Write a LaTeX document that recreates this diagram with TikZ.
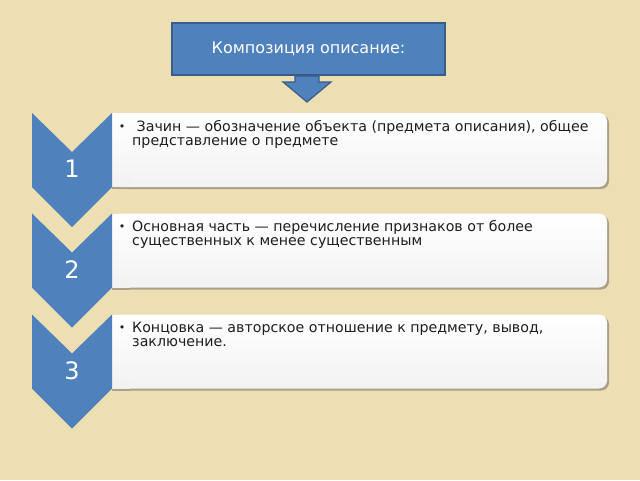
\documentclass[tikz,border=0pt]{standalone}
\usepackage{fontspec}
\setmainfont{DejaVu Sans}
\definecolor{bg}{RGB}{238,222,180}
\definecolor{ofblue}{RGB}{79,129,189}
\definecolor{ofblueline}{RGB}{56,93,138}
\definecolor{txt}{RGB}{30,30,30}
\definecolor{shad}{RGB}{170,160,135}
\tikzset{
  chev/.style={fill=ofblue},
  tbox/.style={top color=white, bottom color=black!5, rounded corners=8pt},
  tshadow/.style={fill=shad, rounded corners=8pt},
  numtxt/.style={text=white, font=\fontsize{24}{24}\selectfont, inner sep=0pt},
  linetxt/.style={text=txt, font=\fontsize{14.2}{14}\selectfont, inner sep=0pt, anchor=base west},
  bul/.style={text=txt, font=\fontsize{11}{11}\selectfont, inner sep=0pt, anchor=base},
}
\begin{document}
\begin{tikzpicture}[x=1pt,y=-1pt]
\useasboundingbox (0,0) rectangle (640,480);
\fill[bg] (0,0) rectangle (640,480);
% top box and arrow
\node[fill=ofblue, draw=ofblueline, line width=1.5pt, minimum width=273pt, minimum height=52pt, inner sep=0pt,
      text=white, font=\fontsize{16}{16}\selectfont] (title) at (308.5,49) {Композиция описание:};
\filldraw[fill=ofblue, draw=ofblueline, line width=1.2pt]
  (295,76) -- (319,76) -- (319,82) -- (331,82) -- (307,102) -- (283,82) -- (295,82) -- cycle;
\coordinate (arrowtip) at (307,102);
% rows
\foreach \t/\n in {113/1, 213.5/2, 314.5/3}{
  \fill[tshadow] (114,\t+2) rectangle (609,\t+76);
  \fill[shad] (112,\t+66) rectangle (130,\t+76);
  \shade[tbox] (112,\t) rectangle (607,\t+74);
  \fill[white] (112,\t) rectangle (130,\t+10);
  \fill[black!5] (112,\t+64) rectangle (130,\t+74);
  \fill[chev] (32,\t) -- (72,\t+39) -- (112,\t) -- (112,\t+74) -- (72,\t+114) -- (32,\t+74) -- cycle;
  \node[numtxt] (num\n) at (72,\t+56) {\n};
  \node[bul] (bul\n) at (122,\t+17) {•};
}
\node[linetxt] (l1a) at (132,131) {\ Зачин — обозначение объекта (предмета описания), общее};
\node[linetxt] (l1b) at (132,145) {представление о предмете};
\node[linetxt] (l2a) at (132,231.5) {Основная часть — перечисление признаков от более};
\node[linetxt] (l2b) at (132,245.5) {существенных к менее существенным};
\node[linetxt] (l3a) at (132,332.5) {Концовка — авторское отношение к предмету, вывод,};
\node[linetxt] (l3b) at (132,346.5) {заключение.};
\end{tikzpicture}
\end{document}
